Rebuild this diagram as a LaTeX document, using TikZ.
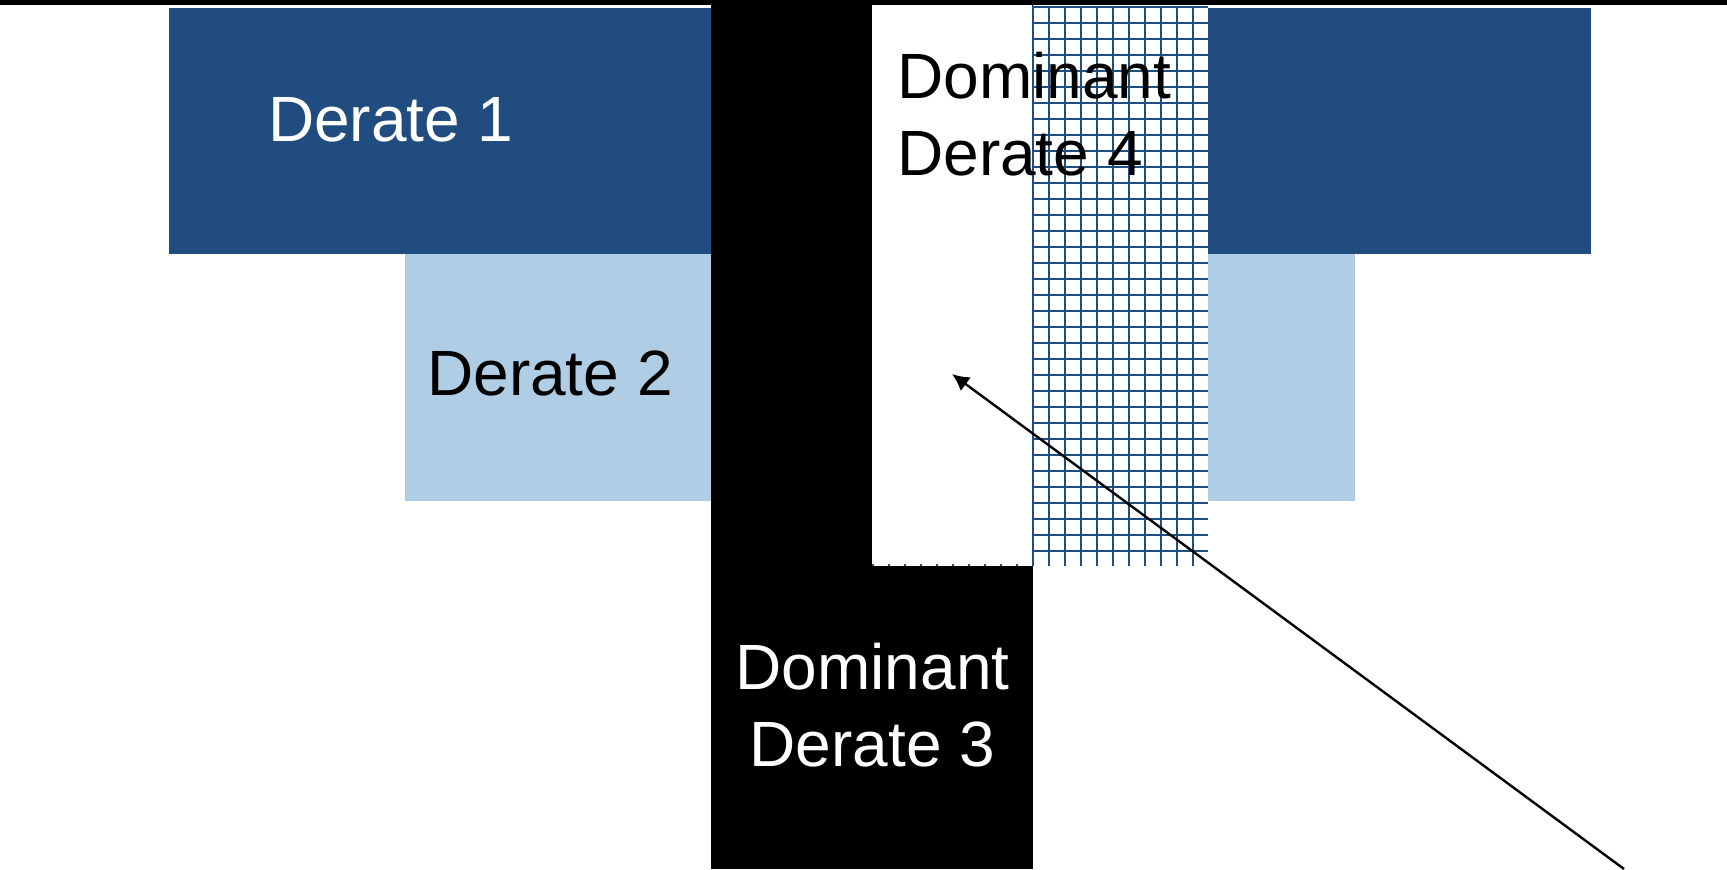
\documentclass[tikz,border=0pt]{standalone}
\usepackage{xcolor}
\usepackage{tikz}
\usepackage{fontspec}
\setmainfont{Liberation Sans}
\usetikzlibrary{arrows.meta}

\definecolor{derateDark}{RGB}{33,76,128}
\definecolor{derateLight}{RGB}{175,205,228}
\definecolor{gridBlue}{RGB}{31,78,128}

\begin{document}
\begin{tikzpicture}[x=0.5pt,y=0.5pt,yscale=-1,xscale=1,
  lbl/.style={inner sep=0pt,font=\fontsize{32}{38.4}\selectfont}]

\useasboundingbox (0,0) rectangle (1727,869);

\fill[derateDark] (169,8) rectangle (1591,254);

\fill[derateLight] (405,254) rectangle (1355,501);

\fill[black] (711,5) rectangle (1033,869);

% hatched band
\fill[white] (872,6) rectangle (1208,566);
\foreach \gx in {0,...,20}
  \draw[gridBlue,line width=1.1pt] (872.7+16*\gx,6) -- (872.7+16*\gx,566);
\foreach \gy in {0,...,34}
  \draw[gridBlue,line width=1.1pt] (872,6.7+16*\gy) -- (1208,6.7+16*\gy);

\fill[white] (872,5) rectangle (1031.7,563.5);

\draw[line width=2.5pt] (0,2.5) -- (1727,2.5);



\node[lbl,white,anchor=base west] (derate1) at (267.8,141) {Derate 1};

\node[lbl,anchor=base west] (derate2) at (426.8,395) {Derate 2};

\node[lbl,white,align=center,anchor=base] (derate3) at (872.5,766.7) {Dominant\\Derate 3};

\node[lbl,align=left,anchor=base west] (derate4) at (896.8,175) {Dominant\\Derate 4};


\coordinate (tail) at (1624,869);
\coordinate (tip) at (952,374);
\draw[line width=1.2pt,-{Latex[length=8.5pt,width=8.5pt]}] (tail) -- (tip);

\end{tikzpicture}
\end{document}
